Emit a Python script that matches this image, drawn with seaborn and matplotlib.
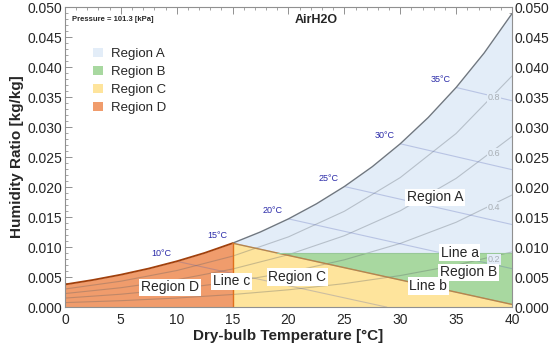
import numpy as np
import matplotlib
matplotlib.use("Agg")
import matplotlib.pyplot as plt
import seaborn as sns
from matplotlib.patches import Patch
from matplotlib.ticker import MultipleLocator, FormatStrFormatter

# saturation humidity ratio [kg/kg] at dry-bulb temperature [C]
sat_T = [0, 2.5, 5, 7.5, 10, 12.5, 15, 17.5, 20, 22.5, 25, 27.5, 30, 32.5, 35, 37.5, 40]
sat_W = [0.003776, 0.004526, 0.005404, 0.006430, 0.007634, 0.009031, 0.010653, 0.012530,
         0.014703, 0.017208, 0.020093, 0.023401, 0.027216, 0.031588, 0.036597, 0.042327, 0.048910]

# relative humidity curves
rh_T = [0, 5, 10, 15, 20, 25, 30, 35, 40]
rh_levels = ["0.2", "0.4", "0.6", "0.8"]
rh_02 = [0.000751, 0.001073, 0.001512, 0.002102, 0.002886, 0.003917, 0.005259, 0.006990, 0.009203]
rh_04 = [0.001505, 0.002150, 0.003031, 0.004218, 0.005799, 0.007884, 0.010608, 0.014140, 0.018683]
rh_06 = [0.002260, 0.003231, 0.004558, 0.006349, 0.008739, 0.011902, 0.016049, 0.021453, 0.028451]
rh_08 = [0.003017, 0.004316, 0.006092, 0.008493, 0.011707, 0.015971, 0.021585, 0.028937, 0.038523]

# wet-bulb lines: start on saturation curve, end at the frame
wb_T = [10, 15, 20, 25, 30, 35]
wb_end_T = [28.8, 40, 40, 40, 40, 40]
wb_end_W = [0.0, 0.000447, 0.006409, 0.013759, 0.022903, 0.034386]

# region boundaries
line_a_W = 0.009
line_b_T = [15, 19.0, 40]
line_b_W = [0.010653, 0.00902, 0.000447]
line_c_T = 15

col_A = "#e3edf8"
col_B = "#a8d8a0"
col_C = "#fee49c"
col_D = "#f09c6c"

sns.set_theme(style="ticks")
plt.rcParams["font.family"] = ["Liberation Sans", "DejaVu Sans"]

fig = plt.figure(figsize=(5.5, 3.51), dpi=100)
ax = fig.add_axes([0.118, 0.125, 0.813, 0.855])

sT = np.array(sat_T)
sW = np.array(sat_W)
hi = sT >= 15
lo = sT <= 15

# Region A: above line a / line b, below saturation
a_lowW = np.maximum(np.interp(sT[hi], line_b_T, line_b_W), line_a_W)
ax.fill_between(sT[hi], a_lowW, sW[hi], color=col_A, lw=0)
# Region B
bT = [line_b_T[1], 40]
ax.fill_between(bT, np.interp(bT, line_b_T, line_b_W), line_a_W, color=col_B, lw=0)
# Region C
ax.fill_between(line_b_T, 0, line_b_W, color=col_C, lw=0)
# Region D
ax.fill_between(sT[lo], 0, sW[lo], color=col_D, lw=0)

# RH curves
for lab, w in zip(rh_levels, [rh_02, rh_04, rh_06, rh_08]):
    sns.lineplot(x=rh_T, y=w, ax=ax, color="#505860", alpha=0.3, lw=0.8, estimator=None, sort=False)
    ty = np.interp(38.4, rh_T, w)
    ax.text(38.4, ty - 0.0006, lab, fontsize=6.5, color="#a8aeb4", ha="center", va="center",
            bbox=dict(boxstyle="square,pad=0.1", fc=col_A, ec="none"), zorder=5)

# wet-bulb lines
for t, et, ew in zip(wb_T, wb_end_T, wb_end_W):
    w0 = np.interp(t, sat_T, sat_W)
    sns.lineplot(x=[t, et], y=[w0, ew], ax=ax, color="#4a5ab0", alpha=0.28, lw=0.8, estimator=None, sort=False)
    ax.annotate(f"{t}°C", (t, w0), xytext=(-4, 2.5), textcoords="offset points", fontsize=6.5,
                color="#2a2aa8", ha="right", va="bottom")

# boundaries
sns.lineplot(x=sT[hi], y=sW[hi], ax=ax, color="#6f7780", lw=1.0, estimator=None, sort=False)
sns.lineplot(x=sT[lo], y=sW[lo], ax=ax, color="#a0400c", lw=1.3, estimator=None, sort=False)
sns.lineplot(x=line_b_T, y=line_b_W, ax=ax, color="#b8864a", lw=1.0, estimator=None, sort=False)
ax.plot([line_c_T, line_c_T], [0, np.interp(15, sat_T, sat_W)], color="#e0701c", lw=1.0)
ax.plot([line_b_T[1], 40], [line_a_W, line_a_W], color="#98c898", lw=0.8)

# region and line labels
box = dict(boxstyle="square,pad=0.12", fc="white", ec="none")
labels = [("Region A", 33.1, 0.0183), ("Line a", 35.3, 0.0091), ("Region B", 36.1, 0.0058),
          ("Line b", 32.5, 0.0035), ("Region C", 20.8, 0.0050), ("Line c", 14.9, 0.0043),
          ("Region D", 9.4, 0.0033)]
for s, x, y in labels:
    ax.text(x, y, s, fontsize=10, ha="center", va="center", bbox=box, zorder=6)

ax.text(0.6, 0.0479, "Pressure = 101.3 [kPa]", fontsize=5.5, fontweight="bold", va="center")
ax.text(22.5, 0.0478, "AirH2O", fontsize=9, fontweight="bold", ha="center", va="center")

handles = [Patch(fc=c, ec="none", label=f"Region {r}") for c, r in zip([col_A, col_B, col_C, col_D], "ABCD")]
ax.legend(handles=handles, loc="upper left", bbox_to_anchor=(0.052, 0.882), frameon=False, fontsize=9.5,
          handlelength=0.7, handleheight=0.7, handletextpad=0.6, labelspacing=0.45, borderaxespad=0)

ax.set_xlim(0, 40)
ax.set_ylim(0, 0.05)
ax.xaxis.set_major_locator(MultipleLocator(5))
ax.xaxis.set_minor_locator(MultipleLocator(1))
ax.yaxis.set_major_locator(MultipleLocator(0.005))
ax.yaxis.set_minor_locator(MultipleLocator(0.001))
ax.yaxis.set_major_formatter(FormatStrFormatter("%.3f"))
ax.tick_params(which="both", direction="in", top=True, right=True, labelright=True,
               color="#808080", labelsize=10, pad=2)
ax.tick_params(axis="x", pad=4)
ax.tick_params(which="major", length=5, width=0.6)
ax.tick_params(which="minor", length=2.5, width=0.5)
for sp in ax.spines.values():
    sp.set_color("#909090")
    sp.set_linewidth(0.8)
ax.set_xlabel("Dry-bulb Temperature [°C]", fontsize=11, fontweight="bold", labelpad=2)
ax.set_ylabel("Humidity Ratio [kg/kg]", fontsize=11, fontweight="bold", labelpad=2)

fig.savefig("out.png", dpi=100)
